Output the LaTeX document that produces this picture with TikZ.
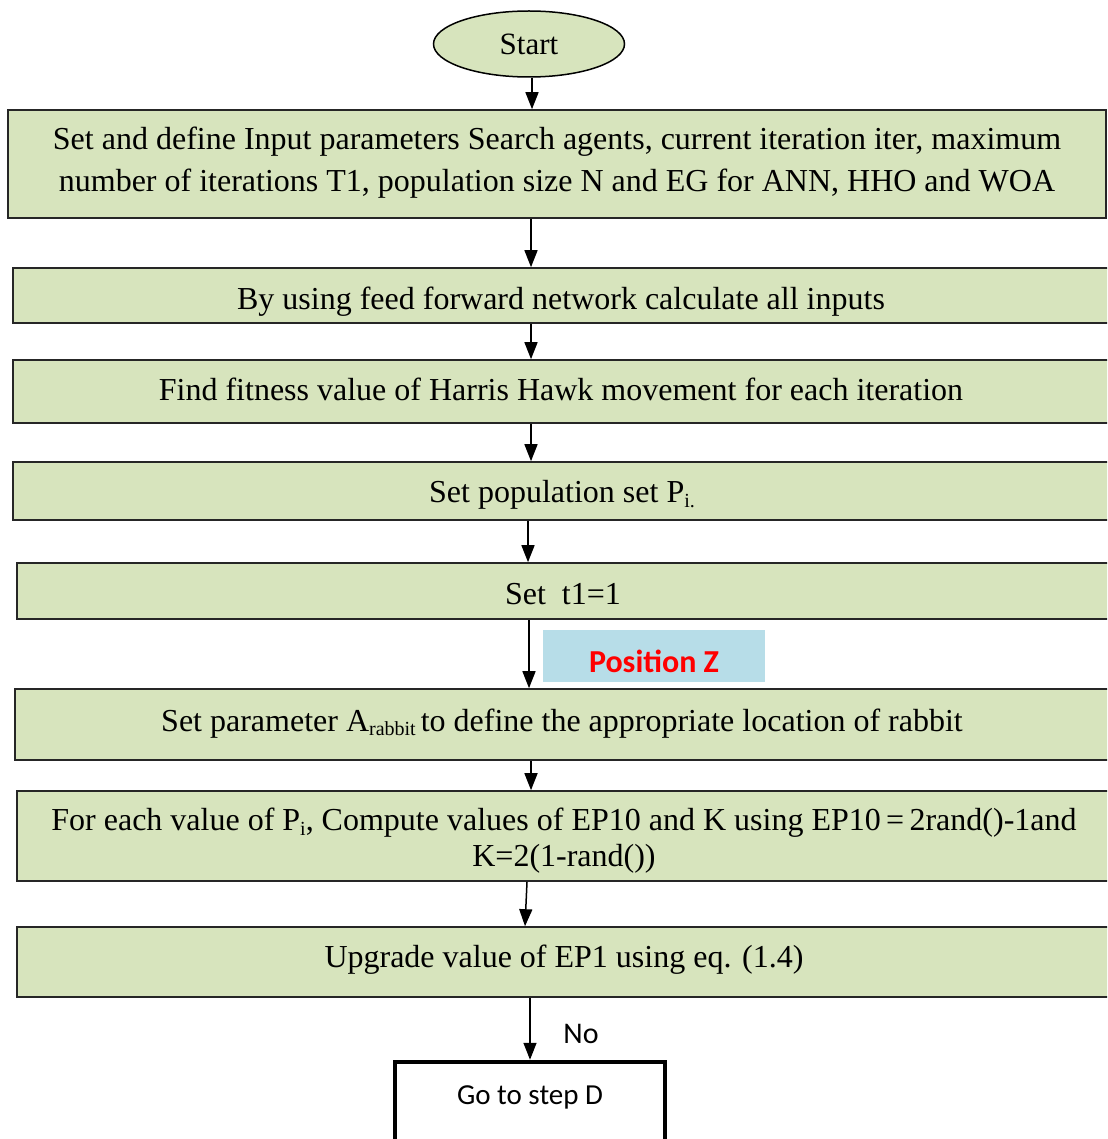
\documentclass[tikz,border=0pt]{standalone}
\usepackage{fontspec}
\setmainfont{Liberation Serif}
\newfontfamily\calib{Carlito}
\usetikzlibrary{arrows.meta,shapes.geometric}
\definecolor{boxgreen}{HTML}{D7E4BD}
\definecolor{boxblue}{HTML}{B7DDE8}
\newcommand{\sub}[1]{\raisebox{-0.3ex}{\fontsize{20}{20}\selectfont #1}}
\tikzset{
  stepbox/.style={draw=black!85, line width=1.6pt, fill=boxgreen, rectangle, inner sep=0pt},
  steptext/.style={align=center, inner sep=0pt, font=\fontsize{32}{42}\selectfont},
  arr/.style={line width=1.5pt, -{Triangle[length=17pt,width=13pt]}},
}
\begin{document}
\begin{tikzpicture}[x=1pt,y=-1pt]
\clip (0,0) rectangle (1107,1139);
\fill[white] (0,0) rectangle (1107,1139);

% start terminal
\node[ellipse, draw=black, line width=1.5pt, fill=boxgreen, minimum width=191pt,
  minimum height=66pt, inner sep=0pt, font=\fontsize{31}{36}\selectfont] (start) at (529,44) {Start};

% process boxes
\node[stepbox, minimum width=1098pt, minimum height=108pt] (b1) at (557,164) {};
\node[stepbox, minimum width=1099pt, minimum height=55pt] (b2) at (562.5,295.5) {};
\node[stepbox, minimum width=1099pt, minimum height=63pt] (b3) at (562.5,391.5) {};
\node[stepbox, minimum width=1099pt, minimum height=58pt] (b4) at (562.5,491) {};
\node[stepbox, minimum width=1095pt, minimum height=56pt] (b5) at (564.5,591) {};
\node[stepbox, minimum width=1097pt, minimum height=71pt] (b6) at (563.5,724.5) {};
\node[stepbox, minimum width=1095pt, minimum height=90pt] (b7) at (564.5,836) {};
\node[stepbox, minimum width=1095pt, minimum height=70pt] (b8) at (564.5,962) {};

% box texts
\node[steptext] (b1t) at (557,163)
  {Set and define Input parameters Search agents, current iteration iter, maximum\\
   number of iterations T1, population size N and EG for ANN, HHO and WOA};
\node[steptext] (b2t) at (561,302) {By using feed forward network calculate all inputs};
\node[steptext] (b3t) at (561,389.5) {Find fitness value of Harris Hawk movement for each iteration};
\node[steptext] (b4t) at (562,495) {Set population set P\sub{i.}};
\node[steptext] (b5t) at (563,594) {Set\ \ t1=1};
\node[steptext] (b6t) at (562,723.5) {Set parameter A\sub{rabbit}\hspace{5pt}to define the appropriate location of rabbit};
\node[steptext, font=\fontsize{32}{36}\selectfont] (b7t) at (564,841)
  {For each value of P\sub{i}, Compute values of EP10 and K using EP10\,=\,2rand()-1and\\
   K=2(1-rand())};
\node[steptext] (b8t) at (564,960) {Upgrade value of EP1 using eq. (1.4)};

% exit box
\node[draw=black, line width=4.5pt, fill=white, minimum width=270pt, minimum height=86pt,
  inner sep=0pt] (goto) at (530,1105) {};
\node[font=\calib\fontsize{29}{30}\selectfont] (gototext) at (530,1097) {Go to step D};

% side note
\node[fill=boxblue, minimum width=222pt, minimum height=52pt, inner sep=0pt] (posz) at (654,656) {};
\node[font=\calib\bfseries\fontsize{32}{32}\selectfont, text=red] (poszt) at (654,661) {Position Z};

\node[font=\calib\fontsize{30}{30}\selectfont] (no) at (581,1034) {No};

% connectors
\draw[arr] (start.south -| 532,0) -- (b1.north -| 532,0);
\draw[arr] (b1.south -| 531,0) -- (b2.north -| 531,0);
\draw[arr] (b2.south -| 531,0) -- (b3.north -| 531,0);
\draw[arr] (b3.south -| 531,0) -- (b4.north -| 531,0);
\draw[arr] (b4.south -| 528,0) -- (b5.north -| 528,0);
\draw[arr] (b5.south -| 529,0) -- (b6.north -| 529,0);
\draw[arr] (b6.south -| 531,0) -- (b7.north -| 531,0);
\draw[arr] (b7.south -| 527,0) -- (b8.north -| 525,0);
\draw[arr] (b8.south -| 530,0) -- (goto.north -| 530,0);
\end{tikzpicture}
\end{document}
